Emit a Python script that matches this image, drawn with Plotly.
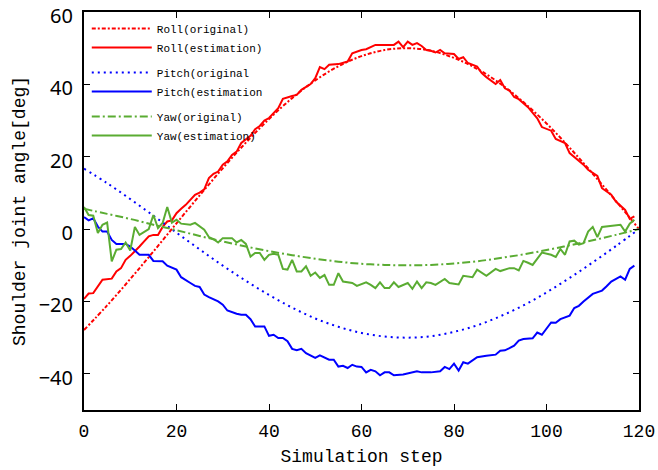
import plotly.graph_objects as go

# ---- original (reference) curves, read every 5 steps ----
orig_steps = [0, 5, 10, 15, 20, 25, 30, 35, 40, 45, 50, 55, 60, 65, 70, 75, 80, 85, 90, 95, 100, 105, 110, 115, 120]
roll_orig = [-27.9, -21.1, -13.8, -6.2, 1.6, 9.3, 16.8, 23.9, 30.4, 36.2, 41.1, 45.0, 47.8, 49.5, 50.0,
             49.3, 47.3, 44.3, 40.2, 35.1, 29.2, 22.5, 15.3, 7.8, 0.0]
pitch_orig = [16.7, 12.7, 8.3, 3.7, -1.0, -5.6, -10.1, -14.3, -18.2, -21.7, -24.7, -27.0, -28.7, -29.7, -30.0,
              -29.6, -28.4, -26.6, -24.1, -21.1, -17.5, -13.5, -9.2, -4.7, 0.0]
yaw_orig = [5.6, 4.2, 2.8, 1.2, -0.3, -1.9, -3.4, -4.8, -6.1, -7.2, -8.2, -9.0, -9.6, -9.9, -10.0,
            -9.9, -9.5, -8.9, -8.0, -7.0, -5.8, -4.5, -3.1, -1.6, 0.0]

# ---- estimated curves ----
roll_est_steps = [0, 1, 2, 3, 4, 6, 7, 8, 9, 10, 11, 12, 13, 14, 15, 16, 17, 18, 19, 20, 21, 22, 24, 25, 26,
                  27, 28, 29, 30, 31, 32, 33, 34, 35, 36, 37, 38, 39, 40, 42, 43, 45, 46, 47, 49, 50, 51, 52,
                  53, 55, 57, 58, 60, 61, 63, 65, 67, 68, 69, 70, 71, 72, 73, 74, 75, 76, 77, 78, 80, 81, 82,
                  83, 85, 86, 87, 89, 90, 91, 92, 93, 94, 96, 97, 98, 99, 101, 102, 104, 105, 106, 108, 109,
                  111, 112, 114, 115, 117, 118, 119]
roll_est = [-19.3, -17.8, -17.7, -15.8, -14.0, -13.7, -11.7, -10.8, -8.5, -7.4, -6.2, -4.8, -3.4, -2.0, -1.6,
            -1.6, 0.6, 2.1, 2.4, 4.4, 5.6, 6.7, 9.5, 10.1, 11.0, 14.1, 15.3, 15.9, 17.8, 18.7, 20.5, 21.4,
            23.8, 24.9, 25.8, 27.6, 28.5, 30.0, 30.7, 33.4, 36.0, 36.8, 37.1, 38.5, 40.1, 41.7, 44.8, 44.2,
            45.4, 45.6, 46.3, 48.6, 49.5, 49.7, 50.9, 50.9, 50.9, 51.8, 50.3, 51.8, 50.9, 51.4, 50.6, 49.5,
            49.3, 48.8, 49.5, 48.6, 48.4, 47.0, 47.5, 45.9, 44.9, 43.1, 42.0, 40.1, 41.2, 38.9, 38.3, 36.5,
            35.9, 33.7, 32.2, 30.6, 28.2, 27.2, 24.9, 23.8, 21.0, 19.9, 17.8, 16.4, 14.7, 11.3, 9.5, 7.6,
            5.3, 2.8, 3.5]

pitch_est_steps = [0, 1, 2, 3, 4, 5, 6, 7, 9, 10, 11, 12, 14, 15, 17, 18, 20, 21, 23, 24, 25, 26, 27, 29, 30,
                   31, 33, 34, 35, 36, 37, 39, 40, 41, 42, 43, 44, 45, 46, 47, 48, 50, 51, 52, 53, 54, 55, 56,
                   57, 58, 59, 60, 61, 62, 63, 64, 65, 66, 67, 69, 72, 73, 75, 77, 78, 79, 80, 81, 82, 83, 85,
                   87, 89, 90, 91, 92, 93, 94, 95, 97, 98, 99, 100, 101, 102, 103, 105, 106, 107, 108, 110,
                   112, 113, 114, 116, 117, 118, 119]
pitch_est = [3.3, 2.4, 3.0, 0.7, -0.7, -0.7, -3.0, -4.1, -4.1, -4.8, -5.9, -7.1, -7.1, -8.8, -8.9, -10.1,
             -11.2, -13.3, -14.9, -15.7, -16.0, -18.1, -18.8, -20.0, -20.9, -22.5, -23.4, -23.7, -23.7, -24.9,
             -26.9, -26.9, -29.5, -29.2, -30.1, -30.1, -31.0, -33.1, -33.5, -33.1, -34.3, -35.6, -34.9, -35.6,
             -36.1, -36.1, -38.0, -37.8, -38.4, -37.5, -38.0, -38.1, -39.6, -38.9, -39.3, -40.4, -39.6, -39.6,
             -40.4, -40.2, -39.3, -39.6, -39.6, -39.3, -38.1, -38.7, -37.2, -39.1, -36.8, -37.2, -35.4, -35.0,
             -34.7, -33.6, -33.5, -32.9, -32.2, -30.8, -30.4, -30.2, -28.6, -29.2, -27.4, -25.8, -25.9, -24.9,
             -23.9, -21.8, -21.2, -20.0, -17.9, -17.0, -15.8, -14.5, -13.1, -14.0, -11.0, -10.1]

yaw_est_steps = [0, 1, 2, 3, 4, 5, 6, 7, 8, 9, 10, 11, 12, 13, 14, 15, 16, 17, 18, 19, 20, 21, 23, 24, 25, 26,
                 27, 28, 29, 30, 32, 33, 34, 35, 36, 37, 38, 39, 40, 41, 42, 43, 44, 45, 46, 47, 48, 49, 50,
                 51, 52, 53, 54, 55, 56, 58, 59, 61, 62, 63, 64, 65, 66, 67, 68, 70, 71, 72, 73, 74, 75, 76,
                 78, 79, 80, 81, 82, 84, 85, 87, 89, 90, 92, 93, 94, 95, 96, 97, 99, 101, 102, 103, 104, 105,
                 106, 107, 108, 109, 110, 111, 112, 114, 116, 117, 118, 119]
yaw_est = [6.1, 3.9, 3.7, -1.1, 1.2, 1.8, -8.9, -5.7, -5.5, -3.7, -5.9, 0.6, -1.6, -0.7, 0.0, 3.9, 0.3, 1.7,
           6.1, 1.8, 2.6, 1.5, 1.2, 1.7, 0.7, -0.2, -2.2, -2.8, -3.7, -2.5, -2.5, -3.7, -3.0, -4.1, -7.6, -6.6,
           -6.6, -8.5, -7.1, -6.8, -7.1, -11.0, -11.2, -8.5, -11.7, -11.7, -10.3, -12.9, -12.0, -13.5, -12.7,
           -15.4, -15.4, -12.2, -14.5, -14.9, -15.7, -14.7, -15.4, -16.3, -14.7, -16.3, -16.3, -14.7, -16.0,
           -14.9, -16.5, -14.5, -16.3, -14.7, -14.9, -15.4, -13.8, -14.9, -15.1, -15.3, -12.9, -13.3, -11.2,
           -12.9, -11.0, -11.6, -10.8, -10.8, -11.4, -8.8, -9.3, -9.9, -6.5, -7.1, -7.7, -5.5, -7.1, -3.4,
           -3.2, -4.3, -3.9, -0.7, 0.6, -2.2, 0.6, 1.0, 1.2, -0.7, 1.5, 2.6]

x_ticks = [0, 20, 40, 60, 80, 100, 120]
y_ticks = [-40, -20, 0, 20, 40, 60]

RED = "#ff0000"
BLUE = "#0000ff"
GREEN = "#5aac32"

fig = go.Figure()
fig.add_trace(go.Scatter(x=orig_steps, y=roll_orig, mode="lines", name="Roll(original)", legendgroup="r",
                         line=dict(color=RED, width=2, dash="4px,2px,2px,2px", shape="spline")))
fig.add_trace(go.Scatter(x=roll_est_steps, y=roll_est, mode="lines", name="Roll(estimation)", legendgroup="r",
                         line=dict(color=RED, width=2)))
fig.add_trace(go.Scatter(x=orig_steps, y=pitch_orig, mode="lines", name="Pitch(original", legendgroup="p",
                         line=dict(color=BLUE, width=2, dash="2px,4px", shape="spline")))
fig.add_trace(go.Scatter(x=pitch_est_steps, y=pitch_est, mode="lines", name="Pitch(estimation", legendgroup="p",
                         line=dict(color=BLUE, width=2)))
fig.add_trace(go.Scatter(x=orig_steps, y=yaw_orig, mode="lines", name="Yaw(original)", legendgroup="y",
                         line=dict(color=GREEN, width=2, dash="8px,3px,2px,3px", shape="spline")))
fig.add_trace(go.Scatter(x=yaw_est_steps, y=yaw_est, mode="lines", name="Yaw(estimation)", legendgroup="y",
                         line=dict(color=GREEN, width=2)))

MONO = "Liberation Mono"
fig.update_layout(
    width=658, height=470,
    margin=dict(l=84, r=19, t=12, b=60),
    paper_bgcolor="white", plot_bgcolor="white",
    showlegend=True,
    legend=dict(x=0.005, y=0.995, xanchor="left", yanchor="top", bgcolor="rgba(0,0,0,0)",
                font=dict(family=MONO, size=11, color="black"), tracegroupgap=6,
                itemwidth=60, traceorder="grouped"),
    xaxis=dict(range=[0, 120], tickvals=x_ticks, ticks="inside", ticklen=6, tickcolor="black",
               showline=True, linecolor="black", linewidth=2, mirror="ticks", showgrid=False, zeroline=False,
               automargin=False, ticklabelstandoff=3, ticklabeloverflow="allow",
               tickfont=dict(family=MONO, size=18, color="black"),
               title=dict(text="Simulation step", font=dict(family=MONO, size=18, color="black"), standoff=9)),
    yaxis=dict(range=[-50, 60], tickvals=y_ticks, ticks="inside", ticklen=6, tickcolor="black",
               showline=True, linecolor="black", linewidth=2, mirror="ticks", showgrid=False, zeroline=False,
               automargin=False, ticklabelstandoff=5, ticklabeloverflow="allow", ticklabelshift=4,
               tickfont=dict(family="Noto Sans", size=20, color="black"),
               title=dict(text="Shoulder joint angle[deg]", font=dict(family=MONO, size=18, color="black"),
                          standoff=8)),
)

fig.write_html("out.html", config={"displayModeBar": False},
               post_script="document.body.style.margin='0';document.body.style.overflow='hidden';")
